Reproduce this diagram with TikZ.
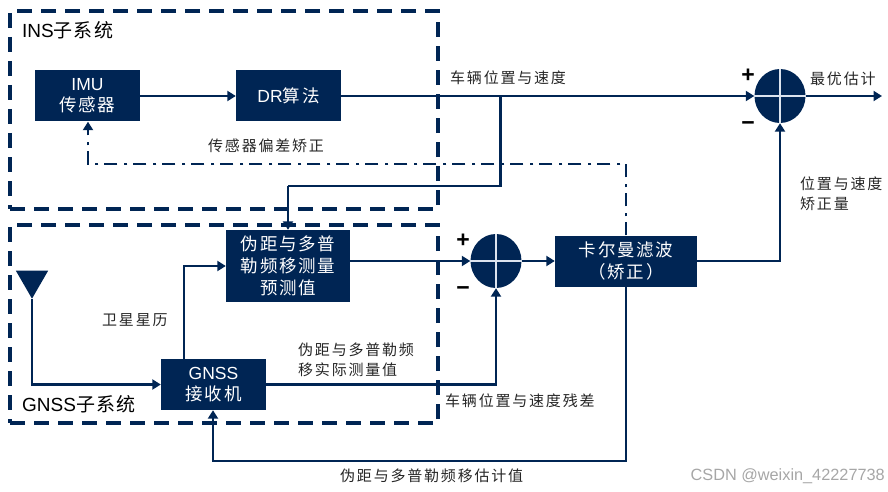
\documentclass[tikz,border=0pt]{standalone}
\usepackage{fontspec}
\setmainfont{Liberation Sans}
\newfontfamily\cjk{Noto Sans CJK SC}
\newfontfamily\cjkwide[LetterSpace=10]{Noto Sans CJK SC}
\newfontfamily\cjklab[LetterSpace=12]{Noto Sans CJK SC}
\newfontfamily\cjksub[LetterSpace=6]{Noto Sans CJK SC}
\usetikzlibrary{arrows.meta,calc,shapes.geometric}
\definecolor{navy}{HTML}{002554}
\definecolor{crosscol}{HTML}{DCE3EE}
\tikzset{
  block/.style={fill=navy,text=white,minimum width=#1,inner sep=0pt,align=center,font=\fontsize{17.5}{22}\selectfont},
  sumdot/.style={ellipse,fill=navy,inner sep=0pt,minimum width=51pt,minimum height=54pt},
  link/.style={draw=navy,line width=2.6pt,-{Triangle[length=8.5pt,width=10pt]}},
  plain/.style={draw=navy,line width=2.6pt},
  dashdot/.style={draw=navy,line width=2.6pt,dash pattern=on 13pt off 6pt on 3pt off 7pt,-{Triangle[length=8.5pt,width=10pt]}},
  groupbox/.style={draw=navy,line width=3.2pt,dash pattern=on 15pt off 9pt},
  lab/.style={inner sep=0pt,align=left,text=black!85,font=\cjklab\fontsize{15}{20}\selectfont},
  sublab/.style={inner sep=0pt,anchor=west,text=black,font=\fontsize{19}{20}\selectfont},
  sign/.style={inner sep=0pt,text=black,font=\bfseries\fontsize{23}{23}\selectfont},
  crossline/.style={draw=crosscol,line width=2.6pt},
}
\begin{document}
\begin{tikzpicture}[x=1pt,y=-1pt]
\useasboundingbox (0,0) rectangle (888,492);
% groups
\node[groupbox,minimum width=428pt,minimum height=198pt,inner sep=0pt] (ins) at (224,110) {};
\node[groupbox,minimum width=428pt,minimum height=198pt,inner sep=0pt] (gnssgroup) at (224,324) {};
\node[sublab] (t1) at (22,30) {INS{\cjksub 子系统}};
\node[sublab] (t2) at (22,404) {GNSS{\cjksub 子系统}};
% blocks
\node[block=105pt,minimum height=51pt] (imu) at (87.5,96) {IMU\\[-1pt]{\cjkwide 传感器}};
\node[block=105pt,minimum height=51pt] (dr) at (288.5,96) {DR{\cjkwide 算法}};
\node[block=124pt,minimum height=72pt] (pred) at (288,266) {\cjkwide 伪距与多普\\\cjkwide 勒频移测量\\\cjkwide 预测值};
\node[block=105pt,minimum height=51pt] (recv) at (213.5,384.5) {GNSS\\[-1pt]{\cjkwide 接收机}};
\node[block=142pt,minimum height=51pt] (kf) at (626,261) {\cjkwide 卡尔曼滤波\\\cjkwide （矫正）};
% sums
\node[sumdot] (s1) at (780,96) {};
\node[sumdot] (s2) at (496,261) {};
\draw[crossline] (s1.west) -- (s1.east);
\draw[crossline] (s1.north) -- (s1.south);
\draw[crossline] (s2.west) -- (s2.east);
\draw[crossline] (s2.north) -- (s2.south);
% antenna
\node[isosceles triangle,isosceles triangle apex angle=60,shape border rotate=-90,fill=navy,inner sep=0pt,minimum height=28pt,minimum width=32pt] (ant) at (32,280) {};
% free ends
\coordinate (out) at (882,96);
\coordinate (j1) at (500.5,96);
\coordinate (j2) at (500.5,186);
\coordinate (j3) at (288,186);
\coordinate (d1) at (626,164);
\coordinate (d2) at (88,164);
\coordinate (a1) at (32,384.5);
\coordinate (r1) at (184,266);
\coordinate (r2) at (496,384.5);
\coordinate (k1) at (780,261);
\coordinate (k2) at (626,461);
\coordinate (k3) at (213,461);
% connectors
\draw[link] (imu.east) -- (dr.west);
\draw[link] (dr.east) -- (s1.west);
\draw[plain] (j1) -- (j2) -- (j3);
\draw[link] (j3) -- (pred.north);
\draw[link] (s1.east) -- (out);
\draw[dashdot] (kf.north) -- (d1) -- (d2) -- (imu.south-|d2);
\draw[link] (pred.east|-s2) -- (s2.west);
\draw[link] (s2.east) -- (kf.west);
\draw[link] (kf.east) -- (k1) -- (s1.south);
\draw[link] (ant.south) -- (a1) -- (recv.west);
\draw[link] (recv.north-|r1) -- (r1) -- (pred.west|-r1);
\draw[link] (recv.east) -- (r2) -- (s2.south);
\draw[link] (kf.south) -- (k2) -- (k3) -- (recv.south-|k3);
% labels
\node[lab,anchor=west] (l1) at (208,146) {传感器偏差矫正};
\node[lab,anchor=west] (l2) at (450,78) {车辆位置与速度};
\node[lab,anchor=west] (l3) at (810,79) {最优估计};
\node[lab,anchor=north west] (l4) at (800,177) {位置与速度\\矫正量};
\node[lab,anchor=west] (l5) at (102,320) {卫星星历};
\node[lab,anchor=north west] (l6) at (298,343) {伪距与多普勒频\\移实际测量值};
\node[lab,anchor=west] (l7) at (445,401) {车辆位置与速度残差};
\node[lab,anchor=west] (l8) at (340,476) {伪距与多普勒频移估计值};
\node[sign] (p1) at (748,76) {+};
\node[sign] (m1) at (748,126) {−};
\node[sign] (p2) at (463,241) {+};
\node[sign] (m2) at (463,291) {−};
\node[inner sep=0pt,anchor=east,text=black!35,font=\fontsize{16.3}{18}\selectfont] (wm) at (885,476) {CSDN @weixin\_42227738};
\end{tikzpicture}
\end{document}
